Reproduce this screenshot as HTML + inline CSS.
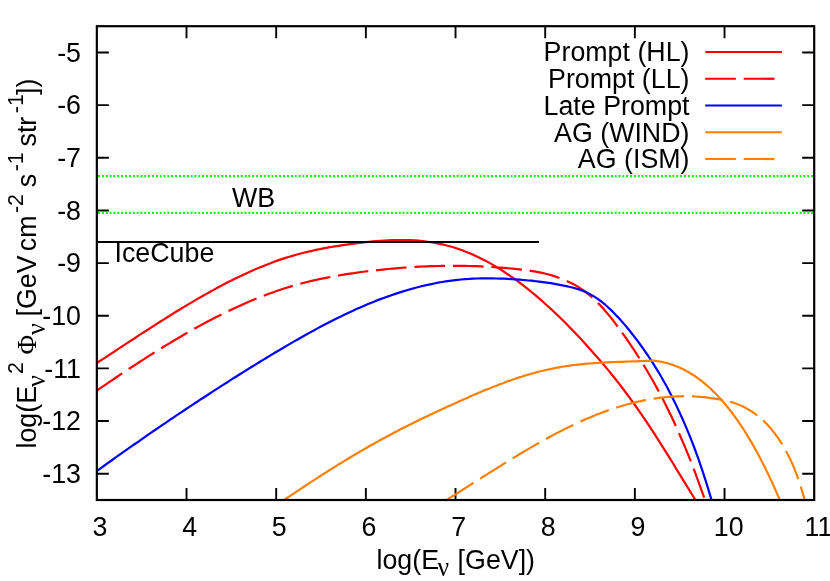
<!DOCTYPE html>
<html><head><meta charset="utf-8"><title>plot</title>
<style>
html,body{margin:0;padding:0;background:#fff;}
svg{display:block;font-family:"Liberation Sans",sans-serif;will-change:transform;}
.sf{font-family:"Liberation Serif",serif;}
</style></head><body>
<svg width="830" height="581" viewBox="0 0 830 581">
<rect width="830" height="581" fill="#fff"/>
<defs><clipPath id="c"><rect x="96.8" y="26.2" width="717.4" height="473.8"/></clipPath></defs>
<path d="M186.52,500.00 v-12 M186.52,26.20 v12 M276.19,500.00 v-12 M276.19,26.20 v12 M365.86,500.00 v-12 M365.86,26.20 v12 M455.52,500.00 v-12 M455.52,26.20 v12 M545.19,500.00 v-12 M545.19,26.20 v12 M634.86,500.00 v-12 M634.86,26.20 v12 M724.53,500.00 v-12 M724.53,26.20 v12 M96.85,473.68 h12 M814.20,473.68 h-12 M96.85,421.03 h12 M814.20,421.03 h-12 M96.85,368.39 h12 M814.20,368.39 h-12 M96.85,315.74 h12 M814.20,315.74 h-12 M96.85,263.10 h12 M814.20,263.10 h-12 M96.85,210.46 h12 M814.20,210.46 h-12 M96.85,157.81 h12 M814.20,157.81 h-12 M96.85,105.17 h12 M814.20,105.17 h-12 M96.85,52.52 h12 M814.20,52.52 h-12" stroke="#000" stroke-width="1.9" fill="none"/>
<path d="M96.85,176.10 H814.20" stroke="#00ff00" stroke-width="2.1" stroke-dasharray="1.93 1.925" stroke-dashoffset="-1.2" fill="none"/>
<path d="M96.85,212.90 H814.20" stroke="#00ff00" stroke-width="2.1" stroke-dasharray="1.93 1.925" stroke-dashoffset="-1.2" fill="none"/>
<g clip-path="url(#c)" fill="none" stroke-width="2.2" stroke-linejoin="round">
<path d="M96.0,363.5 L99.8,361.0 L103.6,358.6 L107.4,356.1 L111.2,353.6 L115.0,351.1 L118.8,348.6 L122.5,346.1 L126.3,343.6 L130.1,341.1 L133.9,338.7 L137.7,336.2 L141.5,333.7 L145.3,331.3 L149.1,328.8 L152.9,326.4 L156.7,323.9 L160.5,321.5 L164.3,319.1 L168.1,316.7 L171.8,314.4 L175.6,312.0 L179.4,309.7 L183.2,307.4 L187.0,305.1 L190.8,302.9 L194.6,300.6 L198.4,298.4 L202.2,296.2 L206.0,294.1 L209.8,292.0 L213.6,289.9 L217.4,287.8 L221.2,285.8 L224.9,283.8 L228.7,281.8 L232.5,279.9 L236.3,278.1 L240.1,276.2 L243.9,274.4 L247.7,272.7 L251.5,271.0 L255.3,269.3 L259.1,267.7 L262.9,266.2 L266.7,264.7 L270.5,263.2 L274.2,261.8 L278.0,260.4 L281.8,259.1 L285.6,257.9 L289.4,256.7 L293.2,255.6 L297.0,254.5 L300.8,253.5 L304.6,252.5 L308.4,251.6 L312.2,250.8 L316.0,249.9 L319.8,249.2 L323.5,248.4 L327.3,247.7 L331.1,247.0 L334.9,246.4 L338.7,245.8 L342.5,245.2 L346.3,244.7 L350.1,244.1 L353.9,243.6 L357.7,243.1 L361.5,242.6 L365.3,242.2 L369.1,241.8 L372.8,241.4 L376.6,241.1 L380.4,240.8 L384.2,240.5 L388.0,240.3 L391.8,240.1 L395.6,240.0 L399.4,240.0 L403.2,240.0 L407.0,240.1 L410.8,240.2 L414.6,240.4 L418.4,240.7 L422.2,241.1 L425.9,241.5 L429.7,242.0 L433.5,242.6 L437.3,243.3 L441.1,244.1 L444.9,245.0 L448.7,246.0 L452.5,247.0 L456.3,248.2 L460.1,249.5 L463.9,250.9 L467.7,252.4 L471.5,254.0 L475.2,255.7 L479.0,257.5 L482.8,259.4 L486.6,261.4 L490.4,263.4 L494.2,265.6 L498.0,267.9 L501.8,270.3 L505.6,272.8 L509.4,275.3 L513.2,278.0 L517.0,280.7 L520.8,283.5 L524.5,286.4 L528.3,289.4 L532.1,292.5 L535.9,295.7 L539.7,298.9 L543.5,302.3 L547.3,305.7 L551.1,309.1 L554.9,312.7 L558.7,316.3 L562.5,320.0 L566.3,323.8 L570.1,327.7 L573.8,331.6 L577.6,335.6 L581.4,339.6 L585.2,343.7 L589.0,347.9 L592.8,352.2 L596.6,356.5 L600.4,360.9 L604.2,365.4 L608.0,369.9 L611.8,374.5 L615.6,379.3 L619.4,384.1 L623.2,389.0 L626.9,394.1 L630.7,399.2 L634.5,404.5 L638.3,409.9 L642.1,415.3 L645.9,420.9 L649.7,426.6 L653.5,432.4 L657.3,438.3 L661.1,444.3 L664.9,450.3 L668.7,456.4 L672.5,462.5 L676.2,468.7 L680.0,474.9 L683.8,481.1 L687.6,487.3 L691.4,493.5 L695.2,499.6 L699.0,505.6" stroke="#ff0000"/>
<path d="M96.8,390.6 L100.7,387.9 L104.5,385.3 L108.4,382.7 L112.2,380.1 L116.0,377.5 L119.9,374.9 L123.7,372.4 L127.5,369.8 L131.4,367.3 L135.2,364.8 L139.1,362.3 L142.9,359.8 L146.7,357.4 L150.6,354.9 L154.4,352.5 L158.2,350.1 L162.1,347.8 L165.9,345.4 L169.8,343.1 L173.6,340.8 L177.4,338.5 L181.3,336.3 L185.1,334.0 L188.9,331.8 L192.8,329.7 L196.6,327.5 L200.5,325.4 L204.3,323.3 L208.1,321.3 L212.0,319.3 L215.8,317.3 L219.6,315.4 L223.5,313.5 L227.3,311.6 L231.2,309.7 L235.0,307.9 L238.8,306.2 L242.7,304.5 L246.5,302.8 L250.3,301.1 L254.2,299.5 L258.0,298.0 L261.9,296.5 L265.7,295.0 L269.5,293.5 L273.4,292.2 L277.2,290.8 L281.0,289.5 L284.9,288.3 L288.7,287.1 L292.6,285.9 L296.4,284.8 L300.2,283.8 L304.1,282.8 L307.9,281.8 L311.7,280.9 L315.6,280.0 L319.4,279.2 L323.3,278.4 L327.1,277.6 L330.9,276.9 L334.8,276.2 L338.6,275.5 L342.4,274.8 L346.3,274.2 L350.1,273.6 L354.0,273.1 L357.8,272.5 L361.6,272.0 L365.5,271.5 L369.3,271.1 L373.1,270.6 L377.0,270.2 L380.8,269.8 L384.7,269.4 L388.5,269.0 L392.3,268.6 L396.2,268.3 L400.0,268.0 L403.8,267.7 L407.7,267.4 L411.5,267.1 L415.4,266.9 L419.2,266.7 L423.0,266.5 L426.9,266.3 L430.7,266.2 L434.5,266.1 L438.4,266.0 L442.2,265.9 L446.1,265.8 L449.9,265.8 L453.7,265.8 L457.6,265.8 L461.4,265.8 L465.2,265.9 L469.1,266.0 L472.9,266.1 L476.8,266.2 L480.6,266.4 L484.4,266.6 L488.3,266.8 L492.1,267.0 L495.9,267.3 L499.8,267.5 L503.6,267.8 L507.5,268.2 L511.3,268.5 L515.1,268.9 L519.0,269.3 L522.8,269.8 L526.6,270.3 L530.5,270.8 L534.3,271.4 L538.2,272.1 L542.0,272.9 L545.8,273.8 L549.7,274.8 L553.5,275.9 L557.3,277.2 L561.2,278.6 L565.0,280.1 L568.9,281.9 L572.7,283.8 L576.5,285.9 L580.4,288.3 L584.2,290.9 L588.0,293.8 L591.9,297.1 L595.7,300.7 L599.6,304.6 L603.4,308.7 L607.2,313.2 L611.1,317.9 L614.9,322.8 L618.7,328.0 L622.6,333.3 L626.4,338.7 L630.3,344.3 L634.1,350.1 L637.9,356.0 L641.8,362.1 L645.6,368.3 L649.4,374.8 L653.3,381.5 L657.1,388.4 L661.0,395.6 L664.8,403.0 L668.6,410.7 L672.5,418.7 L676.3,427.0 L680.1,435.7 L684.0,444.6 L687.8,453.9 L691.7,463.6 L695.5,473.6 L699.3,484.1 L703.2,494.9 L707.0,506.2" stroke="#ff0000" stroke-dasharray="30.7 7.8"/>
<path d="M96.0,471.6 L99.9,468.8 L103.8,466.0 L107.7,463.2 L111.5,460.5 L115.4,457.7 L119.3,454.9 L123.2,452.2 L127.1,449.4 L131.0,446.7 L134.9,444.0 L138.8,441.3 L142.6,438.6 L146.5,435.9 L150.4,433.2 L154.3,430.5 L158.2,427.9 L162.1,425.2 L166.0,422.6 L169.8,419.9 L173.7,417.3 L177.6,414.7 L181.5,412.1 L185.4,409.5 L189.3,406.9 L193.2,404.3 L197.1,401.8 L200.9,399.2 L204.8,396.7 L208.7,394.2 L212.6,391.6 L216.5,389.1 L220.4,386.6 L224.3,384.1 L228.2,381.7 L232.0,379.2 L235.9,376.7 L239.8,374.3 L243.7,371.9 L247.6,369.4 L251.5,367.0 L255.4,364.6 L259.2,362.2 L263.1,359.9 L267.0,357.5 L270.9,355.1 L274.8,352.8 L278.7,350.5 L282.6,348.2 L286.5,345.9 L290.3,343.6 L294.2,341.4 L298.1,339.2 L302.0,337.0 L305.9,334.8 L309.8,332.6 L313.7,330.5 L317.5,328.4 L321.4,326.3 L325.3,324.3 L329.2,322.3 L333.1,320.3 L337.0,318.3 L340.9,316.4 L344.8,314.5 L348.6,312.7 L352.5,310.9 L356.4,309.1 L360.3,307.4 L364.2,305.7 L368.1,304.1 L372.0,302.5 L375.8,300.9 L379.7,299.4 L383.6,298.0 L387.5,296.6 L391.4,295.2 L395.3,293.9 L399.2,292.6 L403.1,291.4 L406.9,290.2 L410.8,289.1 L414.7,288.0 L418.6,287.0 L422.5,286.0 L426.4,285.1 L430.3,284.3 L434.2,283.5 L438.0,282.7 L441.9,282.0 L445.8,281.4 L449.7,280.8 L453.6,280.3 L457.5,279.9 L461.4,279.5 L465.2,279.1 L469.1,278.9 L473.0,278.6 L476.9,278.5 L480.8,278.4 L484.7,278.3 L488.6,278.3 L492.5,278.4 L496.3,278.5 L500.2,278.6 L504.1,278.7 L508.0,278.9 L511.9,279.2 L515.8,279.4 L519.7,279.7 L523.5,280.0 L527.4,280.4 L531.3,280.7 L535.2,281.2 L539.1,281.6 L543.0,282.1 L546.9,282.7 L550.8,283.2 L554.6,283.9 L558.5,284.6 L562.4,285.3 L566.3,286.1 L570.2,287.0 L574.1,288.0 L578.0,289.1 L581.8,290.4 L585.7,292.0 L589.6,293.9 L593.5,296.1 L597.4,298.7 L601.3,301.5 L605.2,304.7 L609.1,308.2 L612.9,311.9 L616.8,315.9 L620.7,320.1 L624.6,324.6 L628.5,329.3 L632.4,334.2 L636.3,339.2 L640.2,344.5 L644.0,349.9 L647.9,355.5 L651.8,361.4 L655.7,367.6 L659.6,374.0 L663.5,380.8 L667.4,387.8 L671.2,395.3 L675.1,403.1 L679.0,411.2 L682.9,419.8 L686.8,428.9 L690.7,438.4 L694.6,448.5 L698.5,459.1 L702.3,470.4 L706.2,482.3 L710.1,495.1 L714.0,508.7" stroke="#0000ff"/>
<path d="M280.0,502.8 L282.3,501.2 L284.7,499.6 L287.0,498.0 L289.4,496.4 L291.7,494.9 L294.1,493.3 L296.4,491.7 L298.8,490.1 L301.1,488.6 L303.5,487.0 L305.8,485.5 L308.2,483.9 L310.5,482.4 L312.8,480.9 L315.2,479.3 L317.5,477.8 L319.9,476.3 L322.2,474.8 L324.6,473.3 L326.9,471.8 L329.3,470.3 L331.6,468.8 L334.0,467.4 L336.3,465.9 L338.6,464.4 L341.0,463.0 L343.3,461.6 L345.7,460.1 L348.0,458.7 L350.4,457.3 L352.7,455.9 L355.1,454.5 L357.4,453.1 L359.8,451.7 L362.1,450.4 L364.5,449.0 L366.8,447.7 L369.1,446.3 L371.5,445.0 L373.8,443.7 L376.2,442.4 L378.5,441.1 L380.9,439.8 L383.2,438.5 L385.6,437.3 L387.9,436.0 L390.3,434.8 L392.6,433.5 L394.9,432.3 L397.3,431.1 L399.6,429.8 L402.0,428.6 L404.3,427.4 L406.7,426.3 L409.0,425.1 L411.4,423.9 L413.7,422.7 L416.1,421.6 L418.4,420.4 L420.8,419.3 L423.1,418.1 L425.4,417.0 L427.8,415.9 L430.1,414.8 L432.5,413.7 L434.8,412.5 L437.2,411.5 L439.5,410.4 L441.9,409.3 L444.2,408.2 L446.6,407.1 L448.9,406.0 L451.3,405.0 L453.6,403.9 L455.9,402.9 L458.3,401.8 L460.6,400.8 L463.0,399.7 L465.3,398.7 L467.7,397.7 L470.0,396.6 L472.4,395.6 L474.7,394.6 L477.1,393.6 L479.4,392.6 L481.7,391.6 L484.1,390.6 L486.4,389.6 L488.8,388.7 L491.1,387.7 L493.5,386.8 L495.8,385.9 L498.2,384.9 L500.5,384.0 L502.9,383.2 L505.2,382.3 L507.6,381.4 L509.9,380.6 L512.2,379.8 L514.6,379.0 L516.9,378.2 L519.3,377.4 L521.6,376.7 L524.0,375.9 L526.3,375.2 L528.7,374.5 L531.0,373.8 L533.4,373.2 L535.7,372.5 L538.1,371.9 L540.4,371.3 L542.7,370.8 L545.1,370.2 L547.4,369.7 L549.8,369.2 L552.1,368.7 L554.5,368.2 L556.8,367.7 L559.2,367.3 L561.5,366.9 L563.9,366.5 L566.2,366.1 L568.5,365.8 L570.9,365.4 L573.2,365.1 L575.6,364.9 L577.9,364.6 L580.3,364.3 L582.6,364.1 L585.0,363.9 L587.3,363.7 L589.7,363.5 L592.0,363.3 L594.4,363.1 L596.7,363.0 L599.0,362.8 L601.4,362.7 L603.7,362.5 L606.1,362.4 L608.4,362.3 L610.8,362.2 L613.1,362.1 L615.5,362.0 L617.8,361.9 L620.2,361.8 L622.5,361.8 L624.8,361.7 L627.2,361.6 L629.5,361.5 L631.9,361.4 L634.2,361.4 L636.6,361.3 L638.9,361.2 L641.3,361.1 L643.6,361.0 L646.0,360.9 L648.3,360.8 L650.7,360.7 L653.0,360.6 L653.8,360.7 L654.6,360.8 L655.4,360.9 L656.2,361.0 L657.1,361.1 L657.9,361.2 L658.7,361.3 L659.5,361.5 L660.3,361.6 L661.1,361.8 L661.9,361.9 L662.7,362.1 L663.5,362.3 L664.4,362.5 L665.2,362.7 L666.0,362.9 L666.8,363.1 L667.6,363.3 L668.4,363.5 L669.2,363.8 L670.0,364.0 L670.8,364.3 L671.7,364.5 L672.5,364.8 L673.3,365.1 L674.1,365.4 L674.9,365.7 L675.7,366.0 L676.5,366.3 L677.3,366.7 L678.2,367.0 L679.0,367.3 L679.8,367.7 L680.6,368.1 L681.4,368.4 L682.2,368.8 L683.0,369.2 L683.8,369.6 L684.6,370.0 L685.5,370.5 L686.3,370.9 L687.1,371.4 L687.9,371.8 L688.7,372.3 L689.5,372.7 L690.3,373.2 L691.1,373.7 L691.9,374.2 L692.8,374.7 L693.6,375.3 L694.4,375.8 L695.2,376.3 L696.0,376.9 L696.8,377.5 L697.6,378.0 L698.4,378.6 L699.2,379.2 L700.1,379.8 L700.9,380.5 L701.7,381.1 L702.5,381.7 L703.3,382.4 L704.1,383.0 L704.9,383.7 L705.7,384.4 L706.5,385.1 L707.4,385.8 L708.2,386.5 L709.0,387.3 L709.8,388.0 L710.6,388.7 L711.4,389.5 L712.2,390.3 L713.0,391.1 L713.8,391.9 L714.7,392.7 L715.5,393.5 L716.3,394.3 L717.1,395.2 L717.9,396.0 L718.7,396.9 L719.5,397.8 L720.3,398.7 L721.2,399.6 L722.0,400.5 L722.8,401.4 L723.6,402.4 L724.4,403.3 L725.2,404.3 L726.0,405.3 L726.8,406.2 L727.6,407.2 L728.5,408.3 L729.3,409.3 L730.1,410.3 L730.9,411.4 L731.7,412.4 L732.5,413.5 L733.3,414.6 L734.1,415.7 L734.9,416.8 L735.8,418.0 L736.6,419.1 L737.4,420.2 L738.2,421.4 L739.0,422.6 L739.8,423.8 L740.6,425.0 L741.4,426.2 L742.2,427.4 L743.1,428.7 L743.9,430.0 L744.7,431.2 L745.5,432.5 L746.3,433.8 L747.1,435.1 L747.9,436.5 L748.7,437.8 L749.5,439.2 L750.4,440.5 L751.2,441.9 L752.0,443.3 L752.8,444.7 L753.6,446.1 L754.4,447.6 L755.2,449.0 L756.0,450.5 L756.8,452.0 L757.7,453.5 L758.5,455.0 L759.3,456.5 L760.1,458.0 L760.9,459.6 L761.7,461.2 L762.5,462.7 L763.3,464.3 L764.2,466.0 L765.0,467.6 L765.8,469.2 L766.6,470.9 L767.4,472.5 L768.2,474.2 L769.0,475.9 L769.8,477.6 L770.6,479.4 L771.5,481.1 L772.3,482.9 L773.1,484.7 L773.9,486.5 L774.7,488.3 L775.5,490.1 L776.3,491.9 L777.1,493.8 L777.9,495.6 L778.8,497.5 L779.6,499.4 L780.4,501.3 L781.2,503.3 L782.0,505.2" stroke="#ff8000"/>
<path d="M447.6,499.3 L449.3,498.2 L451.0,497.1 L452.8,496.0 L454.5,495.0 L456.2,493.9 L457.9,492.8 L459.7,491.7 L461.4,490.6 L463.1,489.5 L464.8,488.4 L466.5,487.3 L468.3,486.2 L470.0,485.1 L471.7,484.0 L473.4,482.9 L475.2,481.8 L476.9,480.8 L478.6,479.7 L480.3,478.6 L482.0,477.5 L483.8,476.4 L485.5,475.3 L487.2,474.2 L488.9,473.1 L490.7,472.0 L492.4,471.0 L494.1,469.9 L495.8,468.8 L497.5,467.7 L499.3,466.6 L501.0,465.6 L502.7,464.5 L504.4,463.4 L506.1,462.4 L507.9,461.3 L509.6,460.3 L511.3,459.2 L513.0,458.2 L514.8,457.1 L516.5,456.1 L518.2,455.0 L519.9,454.0 L521.6,453.0 L523.4,451.9 L525.1,450.9 L526.8,449.9 L528.5,448.9 L530.3,447.9 L532.0,446.9 L533.7,445.9 L535.4,444.9 L537.1,443.9 L538.9,443.0 L540.6,442.0 L542.3,441.0 L544.0,440.1 L545.8,439.1 L547.5,438.2 L549.2,437.2 L550.9,436.3 L552.6,435.4 L554.4,434.4 L556.1,433.5 L557.8,432.6 L559.5,431.7 L561.3,430.9 L563.0,430.0 L564.7,429.1 L566.4,428.2 L568.1,427.4 L569.9,426.6 L571.6,425.7 L573.3,424.9 L575.0,424.1 L576.8,423.3 L578.5,422.5 L580.2,421.7 L581.9,420.9 L583.6,420.1 L585.4,419.4 L587.1,418.6 L588.8,417.9 L590.5,417.2 L592.2,416.4 L594.0,415.7 L595.7,415.0 L597.4,414.3 L599.1,413.7 L600.9,413.0 L602.6,412.4 L604.3,411.7 L606.0,411.1 L607.7,410.5 L609.5,409.9 L611.2,409.3 L612.9,408.7 L614.6,408.1 L616.4,407.6 L618.1,407.0 L619.8,406.5 L621.5,406.0 L623.2,405.5 L625.0,405.0 L626.7,404.5 L628.4,404.0 L630.1,403.6 L631.9,403.1 L633.6,402.7 L635.3,402.3 L637.0,401.9 L638.7,401.5 L640.5,401.1 L642.2,400.8 L643.9,400.4 L645.6,400.1 L647.4,399.8 L649.1,399.4 L650.8,399.1 L652.5,398.9 L654.2,398.6 L656.0,398.3 L657.7,398.1 L659.4,397.9 L661.1,397.7 L662.9,397.5 L664.6,397.3 L666.3,397.1 L668.0,397.0 L669.7,396.8 L671.5,396.7 L673.2,396.6 L674.9,396.5 L676.6,396.4 L678.3,396.3 L680.1,396.3 L681.8,396.3 L683.5,396.2 L685.2,396.2 L687.0,396.2 L688.7,396.3 L690.4,396.3 L692.1,396.4 L693.8,396.4 L695.6,396.5 L697.3,396.6 L699.0,396.8 L700.7,396.9 L702.5,397.0 L704.2,397.2 L705.9,397.4 L707.6,397.6 L709.3,397.8 L711.1,398.1 L712.8,398.3 L714.5,398.6 L716.2,398.9 L718.0,399.2 L719.7,399.5 L721.4,399.8 L721.9,399.9 L722.5,400.0 L723.0,400.1 L723.6,400.2 L724.1,400.3 L724.6,400.4 L725.2,400.5 L725.7,400.7 L726.2,400.8 L726.8,400.9 L727.3,401.0 L727.9,401.2 L728.4,401.3 L728.9,401.4 L729.5,401.6 L730.0,401.7 L730.6,401.9 L731.1,402.0 L731.6,402.2 L732.2,402.4 L732.7,402.5 L733.2,402.7 L733.8,402.9 L734.3,403.0 L734.9,403.2 L735.4,403.4 L735.9,403.6 L736.5,403.8 L737.0,404.0 L737.6,404.2 L738.1,404.4 L738.6,404.6 L739.2,404.9 L739.7,405.1 L740.2,405.3 L740.8,405.5 L741.3,405.8 L741.9,406.0 L742.4,406.3 L742.9,406.5 L743.5,406.8 L744.0,407.1 L744.5,407.3 L745.1,407.6 L745.6,407.9 L746.2,408.2 L746.7,408.5 L747.2,408.8 L747.8,409.1 L748.3,409.4 L748.9,409.7 L749.4,410.0 L749.9,410.3 L750.5,410.7 L751.0,411.0 L751.5,411.4 L752.1,411.7 L752.6,412.1 L753.2,412.4 L753.7,412.8 L754.2,413.2 L754.8,413.6 L755.3,414.0 L755.9,414.4 L756.4,414.8 L756.9,415.2 L757.5,415.6 L758.0,416.0 L758.5,416.5 L759.1,416.9 L759.6,417.4 L760.2,417.8 L760.7,418.3 L761.2,418.7 L761.8,419.2 L762.3,419.7 L762.9,420.2 L763.4,420.7 L763.9,421.2 L764.5,421.7 L765.0,422.3 L765.5,422.8 L766.1,423.3 L766.6,423.9 L767.2,424.4 L767.7,425.0 L768.2,425.6 L768.8,426.2 L769.3,426.8 L769.9,427.4 L770.4,428.0 L770.9,428.6 L771.5,429.3 L772.0,429.9 L772.5,430.6 L773.1,431.3 L773.6,431.9 L774.2,432.6 L774.7,433.3 L775.2,434.1 L775.8,434.8 L776.3,435.5 L776.9,436.3 L777.4,437.0 L777.9,437.8 L778.5,438.6 L779.0,439.4 L779.5,440.2 L780.1,441.0 L780.6,441.9 L781.2,442.7 L781.7,443.6 L782.2,444.5 L782.8,445.3 L783.3,446.2 L783.9,447.2 L784.4,448.1 L784.9,449.0 L785.5,450.0 L786.0,451.0 L786.5,452.0 L787.1,453.0 L787.6,454.0 L788.2,455.0 L788.7,456.1 L789.2,457.2 L789.8,458.3 L790.3,459.4 L790.8,460.5 L791.4,461.7 L791.9,462.9 L792.5,464.1 L793.0,465.3 L793.5,466.6 L794.1,467.9 L794.6,469.2 L795.2,470.6 L795.7,472.0 L796.2,473.4 L796.8,474.8 L797.3,476.3 L797.8,477.8 L798.4,479.4 L798.9,480.9 L799.5,482.5 L800.0,484.2 L800.5,485.9 L801.1,487.6 L801.6,489.4 L802.2,491.2 L802.7,493.0 L803.2,494.9 L803.8,496.8 L804.3,498.8 L804.8,500.8 L805.4,502.9 L805.9,505.0 L806.5,507.2 L807.0,509.4" stroke="#ff8000" stroke-dasharray="30.7 7.8"/>
</g>
<path d="M96.85,241.9 H539" stroke="#000" stroke-width="2.0" fill="none"/>
<rect x="96.85" y="26.20" width="717.35" height="473.80" fill="none" stroke="#000" stroke-width="2.2"/>
<text transform="translate(689.5,61.30) scale(1,1.035)" font-size="26.8" text-anchor="end">Prompt (HL)</text>
<path d="M705.2,52.00 H781.9" stroke="#ff0000" stroke-width="2.2" fill="none"/>
<text transform="translate(689.5,88.05) scale(1,1.035)" font-size="26.8" text-anchor="end">Prompt (LL)</text>
<path d="M705.2,78.75 H781.9" stroke="#ff0000" stroke-width="2.2" fill="none" stroke-dasharray="30.7 7.8"/>
<text transform="translate(689.5,114.80) scale(1,1.035)" font-size="26.8" text-anchor="end">Late Prompt</text>
<path d="M705.2,105.50 H781.9" stroke="#0000ff" stroke-width="2.2" fill="none"/>
<text transform="translate(689.5,141.55) scale(1,1.035)" font-size="26.8" text-anchor="end">AG (WIND)</text>
<path d="M705.2,132.25 H781.9" stroke="#ff8000" stroke-width="2.2" fill="none"/>
<text transform="translate(689.5,168.30) scale(1,1.035)" font-size="26.8" text-anchor="end">AG (ISM)</text>
<path d="M705.2,159.00 H781.9" stroke="#ff8000" stroke-width="2.2" fill="none" stroke-dasharray="30.7 7.8"/>
<text transform="translate(99.95,535.6) scale(1,1.035)" font-size="26.8" text-anchor="middle">3</text>
<text transform="translate(189.62,535.6) scale(1,1.035)" font-size="26.8" text-anchor="middle">4</text>
<text transform="translate(279.29,535.6) scale(1,1.035)" font-size="26.8" text-anchor="middle">5</text>
<text transform="translate(368.96,535.6) scale(1,1.035)" font-size="26.8" text-anchor="middle">6</text>
<text transform="translate(458.62,535.6) scale(1,1.035)" font-size="26.8" text-anchor="middle">7</text>
<text transform="translate(548.29,535.6) scale(1,1.035)" font-size="26.8" text-anchor="middle">8</text>
<text transform="translate(637.96,535.6) scale(1,1.035)" font-size="26.8" text-anchor="middle">9</text>
<text transform="translate(728.73,535.6) scale(1,1.035)" font-size="26.8" text-anchor="middle">10</text>
<text transform="translate(818.40,535.6) scale(1,1.035)" font-size="26.8" text-anchor="middle">11</text>
<text transform="translate(81,482.98) scale(1,1.035)" font-size="26.8" text-anchor="end">-13</text>
<text transform="translate(81,430.33) scale(1,1.035)" font-size="26.8" text-anchor="end">-12</text>
<text transform="translate(81,377.69) scale(1,1.035)" font-size="26.8" text-anchor="end">-11</text>
<text transform="translate(81,325.04) scale(1,1.035)" font-size="26.8" text-anchor="end">-10</text>
<text transform="translate(81,272.40) scale(1,1.035)" font-size="26.8" text-anchor="end">-9</text>
<text transform="translate(81,219.76) scale(1,1.035)" font-size="26.8" text-anchor="end">-8</text>
<text transform="translate(81,167.11) scale(1,1.035)" font-size="26.8" text-anchor="end">-7</text>
<text transform="translate(81,114.47) scale(1,1.035)" font-size="26.8" text-anchor="end">-6</text>
<text transform="translate(81,61.82) scale(1,1.035)" font-size="26.8" text-anchor="end">-5</text>
<text transform="translate(232,206.7) scale(1,1.035)" font-size="26.8">WB</text>
<text transform="translate(114.5,262.3) scale(1,1.035)" font-size="26.8">IceCube</text>
<text transform="translate(376.5,569.00) scale(1,1.035)" font-size="26.8">log(E</text>
<text class="sf" transform="translate(437.6,576.00) scale(1,1.035)" font-size="26.0" textLength="11.6" lengthAdjust="spacingAndGlyphs">ν</text>
<text transform="translate(457.6,569.00) scale(1,1.035)" font-size="26.8">[GeV])</text>
<g transform="translate(35.60,448.50) rotate(-90)">
<text transform="translate(0.00,0.00) scale(1,1.035)" font-size="26.8">log(E</text>
<text class="sf" transform="translate(61.50,9.80) scale(1,1.035)" font-size="26.0">ν</text>
<text transform="translate(74.50,-12.60) scale(1,1.035)" font-size="21.4">2</text>
<text class="sf" transform="translate(94.00,0.00) scale(1,1.035)" font-size="26.8">Φ</text>
<text class="sf" transform="translate(113.50,9.80) scale(1,1.035)" font-size="26.0">ν</text>
<text transform="translate(132.00,0.00) scale(1,1.035)" font-size="26.8">[GeV</text>
<text transform="translate(197.30,0.00) scale(1,1.035)" font-size="26.8">cm</text>
<text transform="translate(235.50,-12.60) scale(1,1.035)" font-size="21.4">-2</text>
<text transform="translate(261.30,0.00) scale(1,1.035)" font-size="26.8">s</text>
<text transform="translate(277.20,-12.60) scale(1,1.035)" font-size="21.4">-1</text>
<text transform="translate(302.00,0.00) scale(1,1.035)" font-size="26.8">str</text>
<text transform="translate(335.30,-12.60) scale(1,1.035)" font-size="21.4">-1</text>
<text transform="translate(353.50,0.00) scale(1,1.035)" font-size="26.8">])</text>
</g>
</svg></body></html>
